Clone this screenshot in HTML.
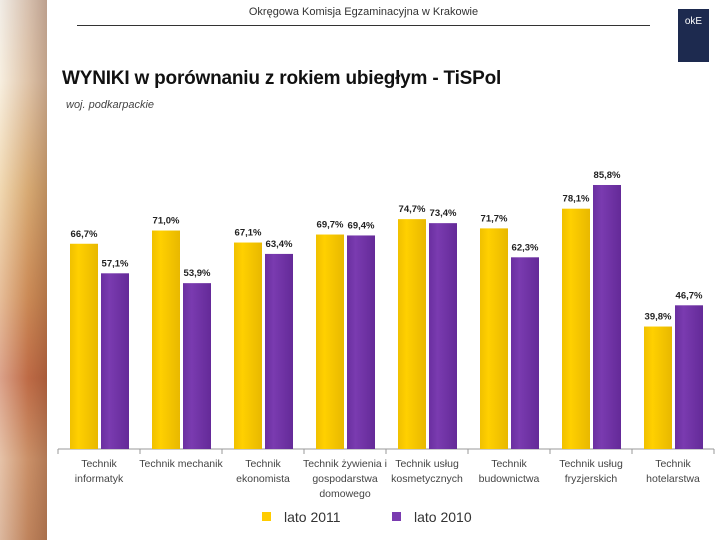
<!DOCTYPE html>
<html><head><meta charset="utf-8">
<style>
body{margin:0;width:720px;height:540px;overflow:hidden;background:#fff;font-family:"Liberation Sans",sans-serif;position:relative}
.abs{position:absolute}
</style></head><body>
<div class="abs" style="left:0;top:0;width:47px;height:540px;background:linear-gradient(180deg,#e9e2d8 0%,#f3e6cf 15%,#e9c489 35%,#d99a62 55%,#c8704c 70%,#d8a27a 85%,#c9916a 100%)"></div>
<div class="abs" style="left:0;top:0;width:47px;height:540px;background:linear-gradient(90deg,rgba(255,255,255,0.35),rgba(160,90,50,0.25) 60%,rgba(120,60,30,0.4))"></div>
<div class="abs" style="left:77px;top:6px;width:573px;text-align:center;font-size:11px;color:#333">Okręgowa Komisja Egzaminacyjna w Krakowie</div>
<div class="abs" style="left:77px;top:25px;width:573px;height:1px;background:#333"></div>
<div class="abs" style="left:678px;top:9px;width:31px;height:53px;background:#1d2a4f;color:#fff;font-size:10px;text-align:center;line-height:26px">okE</div>
<div class="abs" style="left:62px;top:68px;font-size:19px;font-weight:bold;color:#111;letter-spacing:-0.2px">WYNIKI w porównaniu z rokiem ubiegłym - TiSPol</div>
<div class="abs" style="left:66px;top:99px;font-size:11px;font-style:italic;color:#444">woj. podkarpackie</div>
<svg class="abs" style="left:0;top:0" width="720" height="540" id="chart"></svg>
<script>
const categories=[["Technik","informatyk"],["Technik mechanik"],["Technik","ekonomista"],["Technik żywienia i","gospodarstwa","domowego"],["Technik usług","kosmetycznych"],["Technik","budownictwa"],["Technik usług","fryzjerskich"],["Technik","hotelarstwa"]];
const series2011=[66.7,71.0,67.1,69.7,74.7,71.7,78.1,39.8];
const series2010=[57.1,53.9,63.4,69.4,73.4,62.3,85.8,46.7];
const seriesNames=["lato 2011","lato 2010"];
const svg=document.getElementById('chart');
const NS="http://www.w3.org/2000/svg";
const x0=58,step=82,base=449,pxPer=3.077;
const y=v=>base-v*pxPer;
function mk(t,a){const e=document.createElementNS(NS,t);for(const k in a)e.setAttribute(k,a[k]);svg.appendChild(e);return e;}
const defs=mk('defs',{});
defs.innerHTML='<linearGradient id="gy" x1="0" x2="1"><stop offset="0" stop-color="#f0c000"/><stop offset="0.3" stop-color="#ffd000"/><stop offset="1" stop-color="#e8b800"/></linearGradient><linearGradient id="gp" x1="0" x2="1"><stop offset="0" stop-color="#6a2fa0"/><stop offset="0.3" stop-color="#7a3bb0"/><stop offset="1" stop-color="#642a98"/></linearGradient>';
const fmt=v=>v.toFixed(1).replace('.',',')+'%';
const ax=mk('line',{x1:x0,x2:x0+step*8,y1:base,y2:base,stroke:'#999','stroke-width':1});


for(let i=0;i<=8;i++){const t=mk('line',{x1:x0+i*step,x2:x0+i*step,y1:base,y2:base+5,stroke:'#999'});

}
categories.forEach((c,i)=>{
 const cx=x0+i*step;
 [[series2011[i],12,'url(#gy)','bar-2011'],[series2010[i],43,'url(#gp)','bar-2010']].forEach(([v,off,fill,nm])=>{
  const r=mk('rect',{x:cx+off,y:y(v),width:28,height:base-y(v),fill:fill});
  
  
  const tx=mk('text',{x:cx+off+14,y:y(v)-7,'text-anchor':'middle','font-size':9.5,fill:'#222','font-weight':'bold'});
  tx.textContent=fmt(v);
  
  
 });
 c.forEach((ln,j)=>{const t=mk('text',{x:cx+step/2,y:467+j*15,'text-anchor':'middle','font-size':10.5,fill:'#444'});
 t.textContent=ln;
 
 });
});
[['#ffcc00',262],['#7a3bb0',392]].forEach(([col,lx],k)=>{
 const r=mk('rect',{x:lx,y:512,width:9,height:9,fill:col});
 
 
 const t=mk('text',{x:lx+22,y:522,'font-size':14,fill:'#333'});
 t.textContent=seriesNames[k];
 
 
});
</script>
</body></html>
